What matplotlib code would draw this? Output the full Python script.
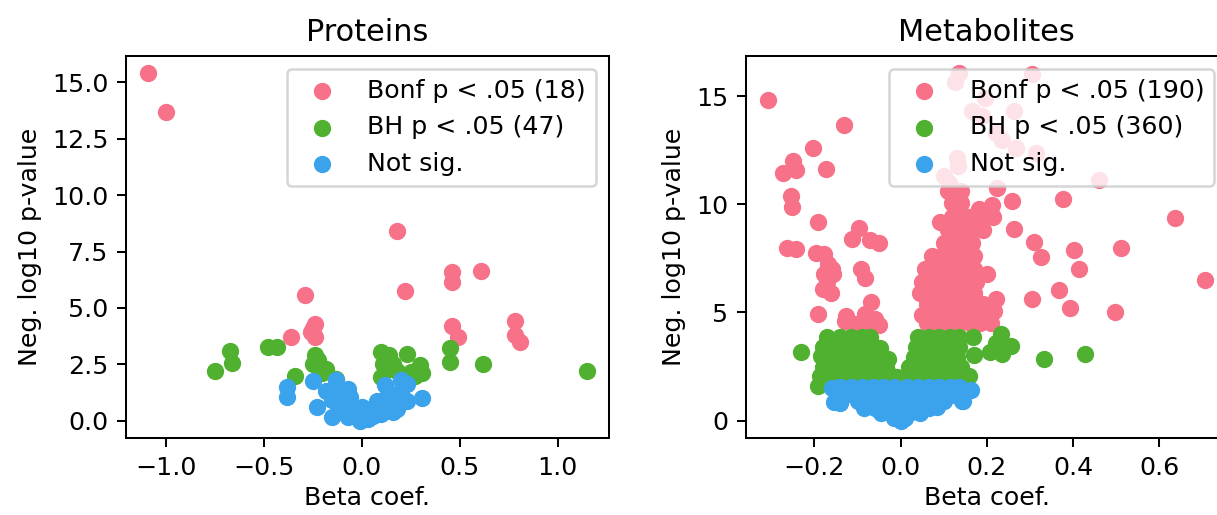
import matplotlib
matplotlib.use("Agg")
import matplotlib.pyplot as plt
import seaborn as sns

# ---- Proteins ----
prot_bonf_x = [-1.09, -1.00, 0.18, 0.22, 0.46, 0.46, 0.61, -0.29, -0.24, -0.26, -0.24, -0.36,
               0.46, 0.49, 0.78, 0.78, 0.81, -0.25]
prot_bonf_y = [15.4, 13.7, 8.4, 5.75, 6.6, 6.15, 6.65, 5.55, 4.3, 3.95, 3.7, 3.7,
               4.2, 3.7, 4.4, 3.8, 3.5, 4.1]

prot_bh_x = [-0.75, -0.67, -0.66, -0.48, -0.43, -0.34, -0.24, -0.25, -0.18, -0.13, -0.20, -0.22,
             0.10, 0.14, 0.23, 0.11, 0.16, 0.12, 0.10, 0.18, 0.30, 0.31, 0.25, 0.13, 0.20, 0.27,
             0.45, 0.45, 0.62, 1.15]
prot_bh_y = [2.2, 3.1, 2.55, 3.25, 3.25, 2.0, 2.9, 2.5, 2.3, 1.85, 2.1, 2.7,
             3.05, 2.9, 2.95, 2.5, 2.5, 2.2, 1.95, 2.2, 2.45, 2.1, 2.15, 2.7, 1.9, 2.0,
             3.2, 2.6, 2.5, 2.2]

prot_ns_x = [-0.38, -0.38, -0.25, -0.23, -0.15, -0.13, -0.18, -0.07, -0.06, -0.11, -0.07, -0.04,
             -0.01, 0.03, 0.06, 0.10, 0.12, 0.13, 0.16, 0.20, 0.23, 0.23, 0.31, 0.18, 0.08, -0.13,
             -0.10, -0.15, 0.05, 0.10, 0.18, 0.20, -0.03, 0.00, 0.14]
prot_ns_y = [1.5, 1.05, 1.75, 0.6, 0.15, 1.8, 1.33, 1.41, 1.04, 0.74, 0.15, 0.44,
             0.0, 0.07, 0.22, 0.74, 1.56, 1.04, 0.37, 1.78, 1.63, 0.89, 0.99, 1.19, 0.89, 1.2,
             0.4, 0.9, 0.5, 0.3, 0.5, 1.3, 0.2, 0.6, 0.7]

# ---- Metabolites ----
met_bonf_x = [
    # left arm
    -0.308, -0.132, -0.204, -0.250, -0.242, -0.273, -0.174, -0.254, -0.252, -0.192, -0.096, -0.114,
    -0.071, -0.050, -0.263, -0.242, -0.196, -0.178, -0.169, -0.157, -0.178, -0.092, -0.083, -0.180,
    -0.162, -0.192, -0.126, -0.069, -0.083, -0.060, -0.106, -0.075, -0.050, -0.130, -0.170, -0.160,
    # right outliers
    0.259, 0.377, 0.636, 0.263, 0.309, 0.325, 0.403, 0.511, 0.414, 0.199, 0.706, 0.366,
    0.304, 0.220, 0.216, 0.393, 0.498, 0.212, 0.212, 0.181, 0.224,
    # behind legend
    0.136, 0.305, 0.127, 0.195, 0.166, 0.189, 0.263, 0.235, 0.267, 0.313, 0.131, 0.100,
    0.111, 0.134, 0.220, 0.461,
    # central cluster
    0.110, 0.127, 0.140,
    0.119, 0.140,
    0.092, 0.119, 0.145, 0.158, 0.185, 0.214,
    0.110, 0.135, 0.160, 0.190,
    0.100, 0.125, 0.150, 0.165,
    0.072, 0.095, 0.120, 0.145, 0.170,
    0.057, 0.080, 0.105, 0.130, 0.155, 0.170,
    0.050, 0.075, 0.100, 0.125, 0.150, 0.175,
    0.045, 0.070, 0.095, 0.120, 0.145, 0.170,
    0.060, 0.085, 0.110, 0.135, 0.160, 0.190,
    0.050, 0.075, 0.100, 0.125, 0.150, 0.175, 0.200,
    0.060, 0.085, 0.110, 0.135, 0.160, 0.185, 0.210,
]
met_bonf_y = [
    14.82, 13.67, 12.60, 12.00, 11.60, 11.44, 11.64, 10.37, 9.88, 9.19, 8.91, 8.40,
    8.37, 8.22, 7.96, 7.91, 7.76, 7.68, 7.22, 6.76, 6.76, 6.99, 6.60, 6.07,
    5.88, 4.95, 4.84, 5.50, 4.92, 4.69, 4.45, 4.45, 4.40, 4.60, 6.40, 7.00,
    10.17, 10.24, 9.37, 8.86, 8.25, 7.56, 7.87, 7.96, 7.02, 6.79, 6.48, 6.04,
    5.61, 5.61, 5.07, 5.19, 5.04, 9.98, 9.45, 9.77, 10.75,
    16.05, 16.00, 15.65, 14.90, 14.29, 14.06, 14.29, 12.98, 12.60, 12.37, 12.13, 11.29,
    10.98, 11.75, 13.29, 11.12,
    10.6, 10.6, 10.6,
    10.06, 10.06,
    9.19, 9.4, 9.4, 9.4, 9.4, 9.4,
    8.8, 8.8, 8.8, 8.8,
    8.2, 8.2, 8.2, 8.2,
    7.6, 7.6, 7.6, 7.6, 7.6,
    7.0, 7.0, 7.0, 7.0, 7.0, 7.0,
    6.4, 6.4, 6.4, 6.4, 6.4, 6.4,
    5.9, 5.9, 5.9, 5.9, 5.9, 5.9,
    5.4, 5.4, 5.4, 5.4, 5.4, 5.4,
    4.9, 4.9, 4.9, 4.9, 4.9, 4.9, 4.9,
    4.5, 4.5, 4.5, 4.5, 4.5, 4.5, 4.5,
]

met_bh_x = [
    -0.231, -0.192,
    -0.170, -0.140, -0.115, -0.090, -0.070,
    -0.180, -0.155, -0.130, -0.105, -0.080, -0.060, -0.048,
    -0.185, -0.160, -0.135, -0.110, -0.085, -0.060, -0.040, -0.029,
    -0.180, -0.155, -0.130, -0.105, -0.080, -0.055, -0.035,
    -0.188, -0.165, -0.140, -0.115, -0.090, -0.065, -0.040, -0.020, -0.009,
    -0.130, -0.100, -0.070, -0.040, -0.015,
    0.040, 0.065, 0.090, 0.115, 0.135,
    0.035, 0.060, 0.085, 0.110, 0.135,
    0.030, 0.055, 0.080, 0.105, 0.130,
    0.020, 0.045, 0.070, 0.095, 0.120, 0.140,
    0.015, 0.040, 0.065, 0.090, 0.115, 0.140, 0.158,
    0.000, 0.030, 0.060, 0.090, 0.120,
    0.167, 0.169, 0.208, 0.232, 0.255, 0.235, 0.220, 0.333, 0.428, 0.141,
]
met_bh_y = [
    3.15, 1.61,
    3.85, 3.85, 3.85, 3.85, 3.85,
    3.4, 3.4, 3.4, 3.4, 3.4, 3.4, 3.38,
    3.0, 2.95, 2.95, 2.95, 2.95, 2.95, 2.95, 2.87,
    2.5, 2.5, 2.5, 2.5, 2.5, 2.5, 2.5,
    2.07, 2.05, 2.05, 2.05, 2.05, 2.05, 2.05, 2.05, 2.03,
    1.7, 1.7, 1.7, 1.7, 1.7,
    3.85, 3.85, 3.85, 3.85, 3.85,
    3.4, 3.4, 3.4, 3.4, 3.4,
    2.95, 2.95, 2.95, 2.95, 2.95,
    2.5, 2.5, 2.5, 2.5, 2.5, 2.5,
    2.05, 2.05, 2.05, 2.05, 2.05, 2.05, 2.05,
    1.7, 1.7, 1.7, 1.7, 1.7,
    3.87, 3.04, 3.15, 4.0, 3.46, 3.07, 3.6, 2.84, 3.07, 2.23,
]

met_ns_x = [
    -0.160, -0.140, -0.115, -0.090, -0.065, -0.040, -0.015, 0.015, 0.040, 0.065, 0.090, 0.115, 0.135,
    -0.130, -0.100, -0.075, -0.050, -0.025, 0.000, 0.025, 0.050, 0.075, 0.100, 0.125,
    -0.155, -0.140, -0.100, -0.080, -0.055, -0.030, 0.000, 0.030, 0.055, 0.080, 0.100, 0.142,
    -0.085, -0.060, -0.035, -0.010, 0.015, 0.040, 0.065, 0.085,
    -0.045, -0.020, 0.000, 0.020, 0.045,
    -0.015, 0.000, 0.010,
    0.162, 0.144,
]
met_ns_y = [
    1.5, 1.55, 1.55, 1.55, 1.55, 1.55, 1.55, 1.55, 1.55, 1.55, 1.55, 1.55, 1.55,
    1.2, 1.2, 1.2, 1.2, 1.2, 1.2, 1.2, 1.2, 1.2, 1.2, 1.2,
    0.84, 0.83, 0.9, 0.9, 0.9, 0.9, 0.9, 0.9, 0.9, 0.9, 0.9, 0.92,
    0.6, 0.6, 0.6, 0.6, 0.6, 0.6, 0.6, 0.65,
    0.35, 0.35, 0.35, 0.35, 0.35,
    0.1, 0.0, 0.1,
    1.43, 0.92,
]

colors = sns.color_palette("husl", 3)

DPI = 182
fig = plt.figure(figsize=(1217 / DPI, 515 / DPI), dpi=DPI)
ax1 = fig.add_axes([126 / 1217, 77 / 515, 483 / 1217, 382 / 515])
ax2 = fig.add_axes([746 / 1217, 77 / 515, 481 / 1217, 382 / 515])

panels = [
    (ax1, "Proteins", (prot_bonf_x, prot_bonf_y), (prot_bh_x, prot_bh_y), (prot_ns_x, prot_ns_y), 18, 47),
    (ax2, "Metabolites", (met_bonf_x, met_bonf_y), (met_bh_x, met_bh_y), (met_ns_x, met_ns_y), 190, 360),
]

for ax, title, bonf, bh, ns, n_bonf, n_bh in panels:
    ax.scatter(bonf[0], bonf[1], color=colors[0], s=34, label=f"Bonf p < .05 ({n_bonf})")
    ax.scatter(bh[0], bh[1], color=colors[1], s=34, label=f"BH p < .05 ({n_bh})")
    ax.scatter(ns[0], ns[1], color=colors[2], s=34, label="Not sig.")
    ax.set_title(title)
    ax.set_xlabel("Beta coef.", labelpad=2.5)
    ax.set_ylabel("Neg. log10 p-value")
    ax.legend(loc="upper right")

fig.savefig("out.png", dpi=DPI)
